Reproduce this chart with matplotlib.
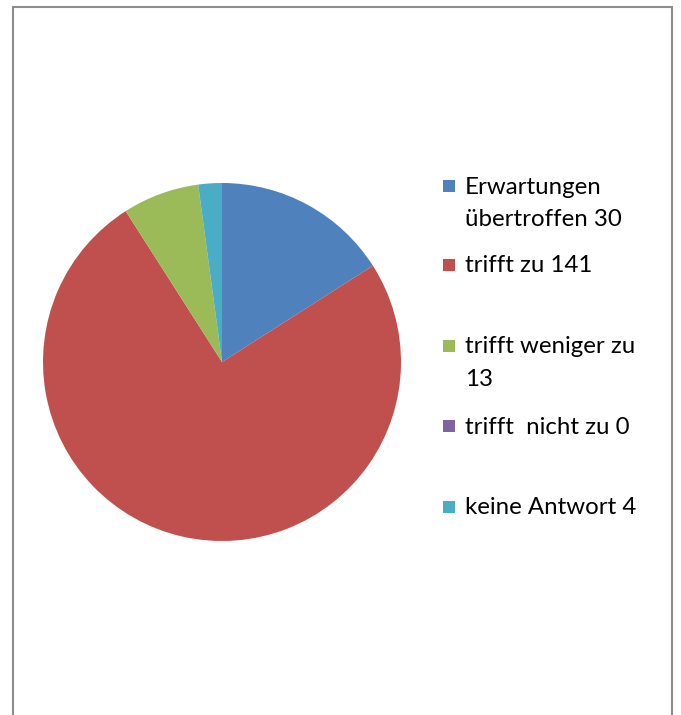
import matplotlib
matplotlib.use("Agg")
import matplotlib.pyplot as plt
from matplotlib.patches import Rectangle

labels = ["Erwartungen\nübertroffen 30", "trifft zu 141", "trifft weniger zu\n13", "trifft  nicht zu 0", "keine Antwort 4"]
values = [30, 141, 13, 0, 4]
colors = ["#4F81BD", "#C0504D", "#9BBB59", "#8064A2", "#4BACC6"]

W, H = 681, 715
fig = plt.figure(figsize=(W / 100, H / 100), dpi=100)
fig.patch.set_facecolor("white")

# outer frame
fig.add_artist(Rectangle((12.5 / W, -0.05), (672 - 12.5) / W, 1.05 - 7 / H,
                         transform=fig.transFigure, fill=False,
                         edgecolor="#8c8c8c", linewidth=1.5))

cx, cy, r = 222, 362, 179
ax = fig.add_axes([(cx - r) / W, 1 - (cy + r) / H, 2 * r / W, 2 * r / H])
ax.pie(values, colors=colors, startangle=90, counterclock=False, radius=1,
       wedgeprops=dict(linewidth=0))
ax.set_xlim(-1, 1)
ax.set_ylim(-1, 1)
ax.set_aspect("equal")
ax.axis("off")

# legend (manual, Excel-like spacing)
ys = [186, 265, 346, 426, 507]
for lab, col, y in zip(labels, colors, ys):
    fig.add_artist(Rectangle((443 / W, 1 - (y + 6) / H), 12 / W, 12 / H,
                             transform=fig.transFigure, facecolor=col, edgecolor="none"))
    fig.text(465 / W, 1 - (y + 1) / H, lab.split("\n")[0], ha="left", va="center",
             fontsize=17.3, family="Lato", color="black")
    if "\n" in lab:
        fig.text(465 / W, 1 - (y + 33) / H, lab.split("\n")[1], ha="left", va="center",
                 fontsize=17.3, family="Lato", color="black")

fig.savefig("out.png", dpi=100, facecolor="white")
